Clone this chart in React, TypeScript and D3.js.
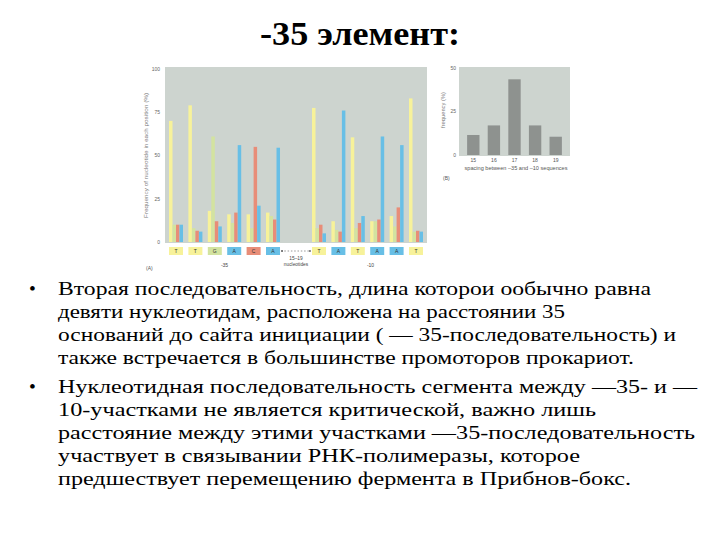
import React from "react";
import * as d3 from "d3";

// ---- Chart A data: nucleotide frequencies at each position (%) ----
const positions = ["T", "T", "G", "A", "C", "A", "T", "A", "T", "A", "A", "T"];
const freqT = [70, 79, 18, 16, 16, 17, 77.5, 12, 60.5, 12, 15, 83];
const freqG = [10, 8, 61, 11, 8, 15, 8, 7, 8, 12, 9, 6];
const freqC = [10, 6.5, 12, 17, 55, 13, 10, 6, 11, 13, 20, 6.5];
const freqA = [10, 6, 9, 56, 21, 54.5, 5, 76, 15, 61, 56, 6];
const yTicksA = [0, 25, 50, 75, 100];

// ---- Chart B data: spacing between -35 and -10 ----
const spacings = ["15", "16", "17", "18", "19"];
const spacingFreq = [11.5, 17, 43.5, 17, 10.5];
const yTicksB = [0, 25, 50];

// ---- Slide text ----
const title = "-35 элемент:";
const bullet1 = [
  "Вторая последовательность, длина которои ообычно равна",
  "девяти нуклеотидам, расположена на расстоянии  35",
  "оснований до сайта инициации ( — 35-последовательность) и",
  "также встречается в большинстве промоторов прокариот.",
];
const bullet1Widths = [593, 507, 618, 576];
const bullet2 = [
  "Нуклеотидная последовательность сегмента между —35- и —",
  "10-участками не является критической, важно лишь",
  "расстояние между этими участками —35-последовательность",
  "участвует в связывании РНК-полимеразы, которое",
  "предшествует перемещению фермента в Прибнов-бокс.",
];
const bullet2Widths = [639, 538, 637, 522, 573];

const colors: Record<string, string> = {
  T: "#f7f29a",
  G: "#d3e3a0",
  C: "#e88d78",
  A: "#68bfe6",
};
const panelBg = "#cdd4cf";
const grayBar = "#8e928f";
const smallFont = "'Liberation Sans', Arial, sans-serif";
const serif = "'Liberation Serif', 'Times New Roman', Times, serif";

export default function App() {
  // Chart A scales
  const GAP = 1.37;
  const slot = (i: number) => (i < 6 ? i : i + GAP);
  const xA = d3.scaleLinear().domain([0, 11 + GAP]).range([169, 409]);
  const yA = d3.scaleLinear().domain([0, 100]).range([242, 69]);
  const barW = 3.5;
  const series = [
    { key: "T", vals: freqT },
    { key: "G", vals: freqG },
    { key: "C", vals: freqC },
    { key: "A", vals: freqA },
  ];
  const groupCenter = (s: number) => xA(s) + 2 * barW;

  // Chart B scales
  const xB = d3
    .scaleBand<string>()
    .domain(spacings)
    .range([463, 566])
    .paddingInner(0.4)
    .paddingOuter(0.2);
  const yB = d3.scaleLinear().domain([0, 50]).range([155, 68]);

  const arrowL = groupCenter(slot(5)) + 8;
  const arrowR = groupCenter(slot(6)) - 8;
  const arrowY = 251;

  const bullet1Base = 295;
  const bullet2Base = 393;
  const lineH = 23;
  const bodySize = 19.5;

  return (
    <svg
      width={720}
      height={540}
      style={{ position: "absolute", left: 0, top: 0, background: "#fff" }}
    >
      <defs>
        <marker id="ah" viewBox="0 0 6 6" refX="5" refY="3" markerWidth="4" markerHeight="4" orient="auto-start-reverse">
          <path d="M0,0 L6,3 L0,6 z" fill="#333" />
        </marker>
      </defs>

      {/* Title */}
      <text x={260} y={45} style={{ fontFamily: serif }} fontWeight="bold" fontSize={33} textLength={200} lengthAdjust="spacingAndGlyphs" fill="#000">
        {title}
      </text>

      {/* ===== Chart A ===== */}
      <rect x={165} y={67} width={262} height={176} fill={panelBg} />
      {yTicksA.map((t) => (
        <g key={t}>
          <line x1={161} x2={165} y1={yA(t)} y2={yA(t)} stroke="#fff" strokeWidth={0.8} />
          <text x={160} y={yA(t) + 1.8} textAnchor="end" style={{ fontFamily: smallFont }} fontSize={5} fill="#666">
            {t}
          </text>
        </g>
      ))}
      <text
        transform={`translate(148,${yA(50)}) rotate(-90)`}
        textAnchor="middle"
        style={{ fontFamily: smallFont }}
        fontSize={5}
        fill="#777"
        textLength={125}
        lengthAdjust="spacingAndGlyphs"
      >
        Frequency of nucleotide in each position (%)
      </text>
      {positions.map((p, i) =>
        series.map((s, k) => (
          <rect
            key={`${i}-${k}`}
            x={xA(slot(i)) + k * barW}
            y={yA(s.vals[i])}
            width={barW}
            height={yA(0) - yA(s.vals[i])}
            fill={colors[s.key]}
          />
        ))
      )}
      {positions.map((p, i) => (
        <g key={`lab-${i}`}>
          <rect x={groupCenter(slot(i)) - 7} y={247} width={14} height={8} fill={colors[p]} />
          <text x={groupCenter(slot(i))} y={253} textAnchor="middle" style={{ fontFamily: smallFont }} fontSize={5} fill="#333">
            {p}
          </text>
        </g>
      ))}
      <line
        x1={arrowL}
        x2={arrowR}
        y1={arrowY}
        y2={arrowY}
        stroke="#333"
        strokeWidth={0.5}
        strokeDasharray="1.5,1.8"
        markerStart="url(#ah)"
        markerEnd="url(#ah)"
      />
      <text x={(arrowL + arrowR) / 2} y={259.5} textAnchor="middle" style={{ fontFamily: smallFont }} fontSize={4.8} fill="#444">
        15–19
      </text>
      <text x={(arrowL + arrowR) / 2} y={266} textAnchor="middle" style={{ fontFamily: smallFont }} fontSize={4.8} fill="#444">
        nucleotides
      </text>
      <text x={(groupCenter(slot(0)) + groupCenter(slot(5))) / 2} y={267} textAnchor="middle" style={{ fontFamily: smallFont }} fontSize={5} fill="#444">
        -35
      </text>
      <text x={(groupCenter(slot(6)) + groupCenter(slot(11))) / 2 + 3} y={267} textAnchor="middle" style={{ fontFamily: smallFont }} fontSize={5} fill="#444">
        -10
      </text>
      <text x={146} y={270} style={{ fontFamily: smallFont }} fontSize={5} fill="#555">
        (A)
      </text>

      {/* ===== Chart B ===== */}
      <rect x={459} y={67} width={111} height={89} fill={panelBg} />
      {yTicksB.map((t) => (
        <text key={t} x={456} y={yB(t) + 1.8} textAnchor="end" style={{ fontFamily: smallFont }} fontSize={5} fill="#666">
          {t}
        </text>
      ))}
      {spacings.map((s, i) => (
        <g key={s}>
          <rect
            x={xB(s)!}
            y={yB(spacingFreq[i])}
            width={xB.bandwidth()}
            height={yB(0) - yB(spacingFreq[i])}
            fill={grayBar}
          />
          <text x={xB(s)! + xB.bandwidth() / 2} y={161.5} textAnchor="middle" style={{ fontFamily: smallFont }} fontSize={5} fill="#555">
            {s}
          </text>
        </g>
      ))}
      <text
        transform={`translate(445,110) rotate(-90)`}
        textAnchor="middle"
        style={{ fontFamily: smallFont }}
        fontSize={5}
        fill="#777"
        textLength={36}
        lengthAdjust="spacingAndGlyphs"
      >
        frequency (%)
      </text>
      <text x={516} y={169.5} textAnchor="middle" style={{ fontFamily: smallFont }} fontSize={5} fill="#555" textLength={103} lengthAdjust="spacingAndGlyphs">
        spacing between –35 and –10 sequences
      </text>
      <text x={443} y={180} style={{ fontFamily: smallFont }} fontSize={5} fill="#555">
        (B)
      </text>

      {/* ===== Bullet text ===== */}
      <text x={29} y={bullet1Base} style={{ fontFamily: serif }} fontSize={bodySize} fill="#000">•</text>
      {bullet1.map((line, i) => (
        <text
          key={`b1-${i}`}
          x={58}
          y={bullet1Base + i * lineH}
          style={{ fontFamily: serif }}
          fontSize={bodySize}
          fill="#000"
          textLength={bullet1Widths[i]}
          lengthAdjust="spacingAndGlyphs"
        >
          {line}
        </text>
      ))}
      <text x={29} y={bullet2Base} style={{ fontFamily: serif }} fontSize={bodySize} fill="#000">•</text>
      {bullet2.map((line, i) => (
        <text
          key={`b2-${i}`}
          x={58}
          y={bullet2Base + i * lineH}
          style={{ fontFamily: serif }}
          fontSize={bodySize}
          fill="#000"
          textLength={bullet2Widths[i]}
          lengthAdjust="spacingAndGlyphs"
        >
          {line}
        </text>
      ))}
    </svg>
  );
}
